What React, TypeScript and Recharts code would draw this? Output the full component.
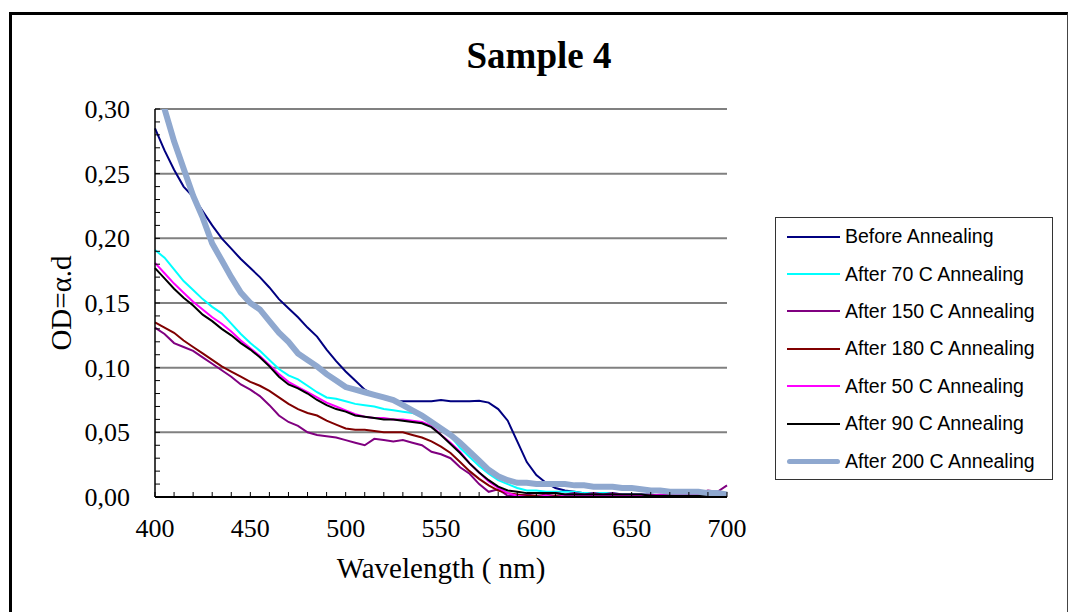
import { CartesianGrid, Line, LineChart, XAxis, YAxis } from "recharts";

// wavelength samples (nm)
const wavelength = [
  400, 405, 410, 415, 420, 425, 430, 435, 440, 445, 450, 455, 460, 465, 470, 475, 480, 485, 490, 495,
  500, 505, 510, 515, 520, 525, 530, 535, 540, 545, 550, 555, 560, 565, 570, 575, 580, 585, 590, 595,
  600, 605, 610, 615, 620, 625, 630, 635, 640, 645, 650, 655, 660, 665, 670, 675, 680, 685, 690, 695, 700,
];

const beforeAnnealing = [
  0.285, 0.268, 0.253, 0.24, 0.232, 0.221, 0.21, 0.2, 0.192, 0.184, 0.177, 0.17, 0.162, 0.153, 0.146, 0.139, 0.131, 0.124, 0.114, 0.105,
  0.097, 0.09, 0.083, 0.079, 0.076, 0.074, 0.074, 0.074, 0.074, 0.074, 0.075, 0.074, 0.074, 0.074, 0.0745, 0.073, 0.068, 0.059, 0.043, 0.027,
  0.017, 0.011, 0.007, 0.005, 0.004, 0.003, 0.003, 0.002, 0.002, 0.002, 0.002, 0.002, 0.001, 0.001, 0.001, 0.001, 0.001, 0.001, 0.001, 0.001, 0.001,
];

const after70 = [
  0.191, 0.185, 0.176, 0.167, 0.16, 0.153, 0.147, 0.142, 0.134, 0.126, 0.119, 0.113, 0.106, 0.099, 0.094, 0.091, 0.086, 0.081, 0.077, 0.076,
  0.074, 0.072, 0.071, 0.07, 0.068, 0.067, 0.066, 0.065, 0.062, 0.057, 0.053, 0.047, 0.038, 0.031, 0.024, 0.018, 0.013, 0.01, 0.007, 0.005,
  0.005, 0.004, 0.004, 0.004, 0.004, 0.003, 0.003, 0.003, 0.003, 0.002, 0.002, 0.002, 0.002, 0.001, 0.001, 0.001, 0.001, 0.001, 0.0, 0.0, 0.0,
];

const after150 = [
  0.131, 0.126, 0.119, 0.116, 0.113, 0.108, 0.103, 0.098, 0.093, 0.087, 0.083, 0.078, 0.071, 0.063, 0.058, 0.055, 0.05, 0.048, 0.047, 0.046,
  0.044, 0.042, 0.04, 0.045, 0.044, 0.043, 0.044, 0.042, 0.04, 0.035, 0.033, 0.03, 0.023, 0.018, 0.01, 0.004, 0.006, 0.001, 0.001, 0.002,
  0.003, 0.002, 0.003, 0.002, 0.003, 0.002, 0.003, 0.002, 0.003, 0.002, 0.002, 0.002, 0.002, 0.001, 0.002, 0.003, 0.004, 0.003, 0.005, 0.004, 0.009,
];

const after180 = [
  0.135, 0.131, 0.127, 0.121, 0.116, 0.111, 0.106, 0.101, 0.097, 0.093, 0.089, 0.086, 0.082, 0.077, 0.072, 0.068, 0.065, 0.063, 0.059, 0.056,
  0.053, 0.052, 0.052, 0.051, 0.05, 0.05, 0.05, 0.048, 0.046, 0.043, 0.039, 0.034, 0.027, 0.02, 0.014, 0.009, 0.005, 0.003, 0.002, 0.001,
  0.001, 0.001, 0.001, 0.001, 0.001, 0.001, 0.001, 0.001, 0.001, 0.001, 0.001, 0.001, 0.001, 0.001, 0.001, 0.001, 0.001, 0.001, 0.001, 0.001, 0.001,
];

const after50 = [
  0.181, 0.173, 0.165, 0.158, 0.151, 0.145, 0.139, 0.134, 0.128, 0.121, 0.115, 0.109, 0.102, 0.095, 0.089, 0.085, 0.081, 0.077, 0.073, 0.07,
  0.067, 0.064, 0.062, 0.061, 0.061, 0.06, 0.06, 0.059, 0.058, 0.055, 0.048, 0.042, 0.035, 0.026, 0.019, 0.012, 0.007, 0.003, 0.001, 0.0,
  0.0, 0.001, 0.0, 0.001, 0.001, 0.001, 0.001, 0.001, 0.001, 0.001, 0.001, 0.001, 0.001, 0.002, 0.001, 0.002, 0.002, 0.002, 0.002, 0.002, 0.003,
];

const after90 = [
  0.177, 0.169, 0.161, 0.154, 0.148, 0.141, 0.136, 0.13, 0.125, 0.119, 0.114, 0.108, 0.101, 0.093, 0.087, 0.084, 0.08, 0.075, 0.071, 0.068,
  0.066, 0.063, 0.062, 0.061, 0.06, 0.06, 0.059, 0.058, 0.057, 0.054, 0.048, 0.041, 0.034, 0.026, 0.019, 0.013, 0.008, 0.005, 0.004, 0.003,
  0.003, 0.003, 0.003, 0.002, 0.002, 0.002, 0.002, 0.002, 0.002, 0.002, 0.002, 0.002, 0.001, 0.001, 0.001, 0.001, 0.001, 0.001, 0.001, 0.0, 0.0,
];

const after200 = [
  0.33, 0.3, 0.275, 0.254, 0.233, 0.216, 0.196, 0.183, 0.17, 0.158, 0.15, 0.145, 0.136, 0.127, 0.12, 0.111, 0.106, 0.101, 0.095, 0.09,
  0.085, 0.083, 0.081, 0.079, 0.077, 0.075, 0.071, 0.067, 0.063, 0.058, 0.053, 0.048, 0.042, 0.035, 0.028, 0.021, 0.016, 0.013, 0.011, 0.011,
  0.01, 0.01, 0.01, 0.01, 0.009, 0.009, 0.008, 0.008, 0.008, 0.007, 0.007, 0.006, 0.005, 0.005, 0.004, 0.004, 0.004, 0.004, 0.003, 0.003, 0.002,
];

const xTicks = [
  400, 410, 420, 430, 440, 450, 460, 470, 480, 490, 500, 510, 520, 530, 540, 550, 560, 570, 580, 590,
  600, 610, 620, 630, 640, 650, 660, 670, 680, 690, 700,
];
const yTicks = [
  0, 0.01, 0.02, 0.03, 0.04, 0.05, 0.06, 0.07, 0.08, 0.09, 0.1, 0.11, 0.12, 0.13, 0.14, 0.15, 0.16, 0.17, 0.18, 0.19,
  0.2, 0.21, 0.22, 0.23, 0.24, 0.25, 0.26, 0.27, 0.28, 0.29, 0.3,
];
const yMajor = [0, 0.05, 0.1, 0.15, 0.2, 0.25, 0.3];

const series = [
  { key: "before", name: "Before Annealing", color: "#000080", width: 2, values: beforeAnnealing },
  { key: "a70", name: "After 70 C Annealing", color: "#00FFFF", width: 2, values: after70 },
  { key: "a150", name: "After 150 C Annealing", color: "#800080", width: 2, values: after150 },
  { key: "a180", name: "After 180 C Annealing", color: "#800000", width: 2, values: after180 },
  { key: "a50", name: "After 50 C Annealing", color: "#FF00FF", width: 2, values: after50 },
  { key: "a90", name: "After 90 C Annealing", color: "#000000", width: 2, values: after90 },
  { key: "a200", name: "After 200 C Annealing", color: "#8FA8CF", width: 6, values: after200 },
];

const rows = wavelength.map((w, i) => {
  const row: Record<string, number> = { w };
  series.forEach((s) => (row[s.key] = s.values[i]));
  return row;
});

const serif = "'Liberation Serif', 'Times New Roman', serif";
const sans = "'Liberation Sans', Arial, sans-serif";

const XTick = (props: any) => {
  const { x, y, payload } = props;
  const v = payload.value;
  return (
    <g>
      <line x1={x} x2={x} y1={y} y2={y - 5} stroke="#000" strokeWidth={1} />
      {v % 50 === 0 && (
        <text x={x} y={y + 40} textAnchor="middle" fontFamily={serif} fontSize={26} fill="#000">
          {v}
        </text>
      )}
    </g>
  );
};

const YTick = (props: any) => {
  const { x, y, payload } = props;
  const v = payload.value;
  const major = Math.round(v * 100) % 5 === 0;
  return (
    <g>
      <line x1={x} x2={x + 5} y1={y} y2={y} stroke="#000" strokeWidth={1} />
      {major && (
        <text x={x - 25} y={y + 9} textAnchor="end" fontFamily={serif} fontSize={26} fill="#000">
          {v.toFixed(2).replace(".", ",")}
        </text>
      )}
    </g>
  );
};

export default function App() {
  return (
    <div style={{ position: "relative", width: 1068, height: 612, overflow: "hidden", background: "#fff" }}>
      <style>{"body{margin:0}"}</style>
      <div
        style={{
          position: "absolute",
          left: 9,
          top: 12,
          width: 1055,
          height: 700,
          borderTop: "3px solid #000",
          borderLeft: "3px solid #000",
          borderRight: "1px solid #444",
        }}
      />
      <div
        style={{
          position: "absolute",
          left: 0,
          top: 37,
          width: 1078,
          textAlign: "center",
          fontFamily: serif,
          fontWeight: "bold",
          fontSize: 37,
          lineHeight: "37px",
          color: "#000",
        }}
      >
        Sample 4
      </div>
      <div style={{ position: "absolute", left: 0, top: 0 }}>
        <LineChart width={1068} height={612} data={rows} margin={{ top: 109, right: 341, bottom: 55, left: 55 }}>
          <CartesianGrid vertical={false} horizontalValues={yMajor} stroke="#808080" strokeWidth={2} />
          <XAxis
            dataKey="w"
            type="number"
            domain={[400, 700]}
            ticks={xTicks}
            interval={0}
            height={60}
            tickSize={0}
            tickMargin={0}
            tickLine={false}
            tick={<XTick />}
            axisLine={{ stroke: "#000", strokeWidth: 2 }}
            label={{
              value: "Wavelength ( nm)",
              position: "bottom",
              offset: 0,
              style: { fontFamily: serif, fontSize: 29, fill: "#000" },
            }}
          />
          <YAxis
            type="number"
            domain={[0, 0.3]}
            allowDataOverflow
            ticks={yTicks}
            interval={0}
            width={100}
            tickSize={0}
            tickMargin={0}
            tickLine={false}
            tick={<YTick />}
            axisLine={{ stroke: "#000", strokeWidth: 1.5 }}
            label={{
              value: "OD=α.d",
              angle: -90,
              position: "insideLeft",
              offset: 6,
              style: { textAnchor: "middle", fontFamily: serif, fontSize: 29, fill: "#000" },
            }}
          />
          {series.map((s) => (
            <Line
              key={s.key}
              dataKey={s.key}
              name={s.name}
              type="linear"
              stroke={s.color}
              strokeWidth={s.width}
              dot={false}
              activeDot={false}
              isAnimationActive={false}
            />
          ))}
        </LineChart>
      </div>
      <div
        style={{
          position: "absolute",
          left: 775,
          top: 217,
          width: 276,
          height: 261,
          border: "1px solid #333",
          background: "#fff",
          fontFamily: sans,
          fontSize: 19.5,
          color: "#000",
        }}
      >
        {series.map((s) => (
          <div key={s.key} style={{ display: "flex", alignItems: "center", height: 37.4, paddingLeft: 11 }}>
            <div
              style={{
                width: 53,
                height: s.width > 3 ? 5 : 2,
                borderRadius: s.width > 3 ? 3 : 0,
                background: s.color,
                marginRight: 5,
                flexShrink: 0,
              }}
            />
            <span style={{ whiteSpace: "nowrap" }}>{s.name}</span>
          </div>
        ))}
      </div>
    </div>
  );
}
